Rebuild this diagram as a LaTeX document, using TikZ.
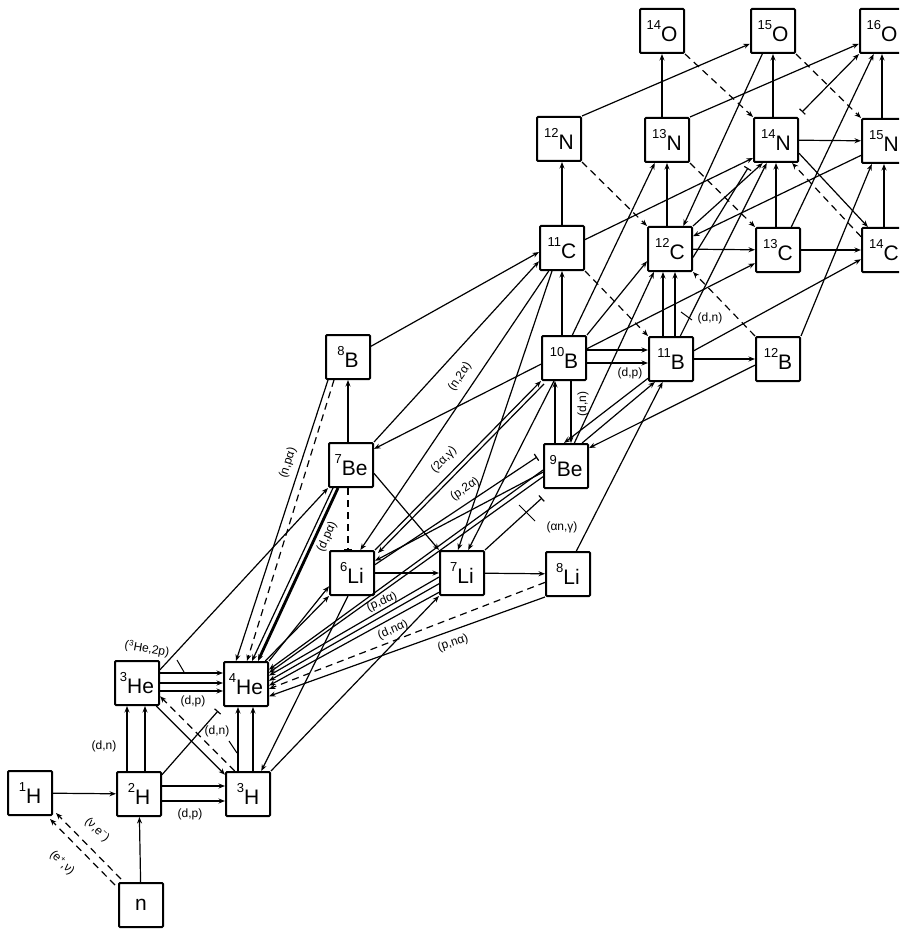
\documentclass[tikz,border=0pt]{standalone}
\usepackage{fontspec}
\setmainfont{Liberation Sans}
\usetikzlibrary{arrows.meta}
\newcommand\ms[1]{\raisebox{0.55em}{\fontsize{13}{13}\selectfont #1}}
\begin{document}
\begin{tikzpicture}[x=1pt,y=-1pt,
  nuc/.style={draw, line width=2pt, minimum width=44pt, minimum height=44pt, inner sep=0pt, rounded corners=1pt, fill=white, font=\fontsize{21}{21}\selectfont},
  ar/.style={line width=1.2pt, -{Stealth[length=6.5pt,width=5pt]}},
  dar/.style={ar, dash pattern=on 7pt off 5pt},
  bar/.style={line width=1.2pt, -{Bar[width=8pt]}},
  dbar/.style={bar, dash pattern=on 7pt off 5pt},
  ln/.style={line width=1pt},
  lab/.style={font=\fontsize{12}{13}\selectfont, inner sep=0.5pt}]
\useasboundingbox (0,0) rectangle (899,933);
\clip (0,0) rectangle (899,933);
% coordinates for free ends
\coordinate (t1) at (802,112);
\coordinate (t2) at (748,168);
% nodes
\node[nuc] (n)   at (141,905) {n};
\node[nuc] (H1)  at (30,793)  {\ms{1}H};
\node[nuc] (H2)  at (139,794) {\ms{2}H};
\node[nuc] (H3)  at (248,794) {\ms{3}H};
\node[nuc] (He3) at (137,683) {\ms{3}He};
\node[nuc] (He4) at (246,684) {\ms{4}He};
\node[nuc] (Li6) at (352,573) {\ms{6}Li};
\node[nuc] (Li7) at (462,573) {\ms{7}Li};
\node[nuc] (Li8) at (568,574) {\ms{8}Li};
\node[nuc] (Be7) at (351,465) {\ms{7}Be};
\node[nuc] (Be9) at (566,466) {\ms{9}Be};
\node[nuc] (B8)  at (348,357) {\ms{8}B};
\node[nuc] (B10) at (564,358) {\ms{10}B};
\node[nuc] (B11) at (671,359) {\ms{11}B};
\node[nuc] (B12) at (778,359) {\ms{12}B};
\node[nuc] (C11) at (562,248) {\ms{11}C};
\node[nuc] (C12) at (670,249) {\ms{12}C};
\node[nuc] (C13) at (778,250) {\ms{13}C};
\node[nuc] (C14) at (884,250) {\ms{14}C};
\node[nuc] (N12) at (559,139) {\ms{12}N};
\node[nuc] (N13) at (667,140) {\ms{13}N};
\node[nuc] (N14) at (776,140) {\ms{14}N};
\node[nuc] (N15) at (884,141) {\ms{15}N};
\node[nuc] (O14) at (662,31)  {\ms{14}O};
\node[nuc] (O15) at (773,31)  {\ms{15}O};
\node[nuc] (O16) at (882,31)  {\ms{16}O};
% ---------- light ----------
\draw[ar] (H1) -- (H2);
\draw[ar] (n) -- (H2);
\draw[dar] ([shift={(3,-3)}]n.north west) -- ([shift={(3,-3)}]H1.south east);
\draw[dar] ([shift={(-3,3)}]n.north west) -- ([shift={(-3,3)}]H1.south east);
\node[lab, rotate=-44] (l1) at (97,830) {(ν,e\textsuperscript{−})};
\node[lab, rotate=-44] (l2) at (62,863) {(e\textsuperscript{+},ν)};
\draw[ar] ([xshift=-12pt]H2.north) -- ([xshift=-12pt]H2.north |- He3.south);
\draw[ar] ([xshift=6pt]H2.north) -- ([xshift=6pt]H2.north |- He3.south);
\node[lab] (l3) at (104,746) {(d,n)};
\draw[ar] ([yshift=8pt]H2.east) -- ([yshift=8pt]H3.west);
\draw[ar] ([yshift=-7pt]H2.east) -- ([yshift=-7pt]H3.west);
\node[lab] (l4) at (190,814) {(d,p)};
\draw[ar] ([yshift=10pt]He3.east) -- ([yshift=10pt]He3.east -| He4.west);
\draw[ar] (He3.east) -- (He3.east -| He4.west);
\draw[ar] ([yshift=-8pt]He3.east) -- ([yshift=-8pt]He3.east -| He4.west);
\node[lab] (l5) at (193,701) {(d,p)};
\node[lab, rotate=-10] (l6) at (147,649) {(\textsuperscript{3}He,2p)};
\coordinate (p6a) at (177,660); \coordinate (p6b) at (184,672);
\draw[ln] (p6a) -- (p6b);
\draw[ar] (He3.-50) -- (H3.140);
\draw[dar] (H3.120) -- (He3.-30);
\draw[bar] (H2.40) -- ([shift={(-5,4)}]He4.south west);
\draw[ar] ([xshift=-10pt]H3.north) -- ([xshift=-10pt]H3.north |- He4.south);
\draw[ar] ([xshift=5pt]H3.north) -- ([xshift=5pt]H3.north |- He4.south);
\node[lab] (l7) at (217,731) {(d,n)};
\coordinate (p7a) at (229,741); \coordinate (p7b) at (237,753);
\draw[ln] (p7a) -- (p7b);
\draw[ar] (Li6.-100) -- (H3.60);
\draw[ar] (H3.north east) -- (Li7.south west);
\draw[ar] (He3.30) -- (Be7.south west);
% ---------- He4 fan ----------
\draw[ar, line width=2.8pt] ([xshift=-13pt]Be7.south) -- ([xshift=12pt]He4.north);
\draw[ar] ([xshift=-18pt]Be7.south) -- ([xshift=6pt]He4.north);
\node[lab, rotate=65] (l8) at (327,537) {(d,pα)};
\draw[dar] ([xshift=-14pt]B8.south) -- ([xshift=1pt]He4.north);
\draw[ar] ([xshift=-20pt]B8.south) -- ([xshift=-10pt]He4.north);
\node[lab, rotate=72] (l9) at (288,463) {(n,pα)};
\draw[ar] (He4.50) -- (Li6.south west);
\draw[ar] (He4.north east) -- (Li6.-150);
\draw[ar] (Li7.190) -- (He4.20);
\draw[ar] (Li7.205) -- (He4.8);
\draw[ar] (Li7.220) -- (He4.-4);
\node[lab, rotate=23] (l10) at (382,602) {(p,dα)};
\node[lab, rotate=23] (l11) at (393,630) {(d,nα)};
\draw[dar] (Li8.200) -- (He4.-12);
\draw[ar] (Li8.-135) -- (He4.-28);
\node[lab, rotate=19] (l12) at (453,643) {(p,nα)};
\draw[ar] (Be9.190) -- (He4.32);
\draw[ar] (Be9.205) -- (He4.26);
\node[lab] (l13) at (562,527) {(αn,γ)};
\coordinate (p13a) at (535,521); \coordinate (p13b) at (519,505);
\draw[ln] (p13a) -- (p13b);
% ---------- Li, Be, B ----------
\draw[ar] (Li6) -- (Li7);
\draw[ar] (Li7) -- (Li8);
\draw[ar] (B8.south |- Be7.north) -- (B8.south);
\draw[dbar] ([xshift=-3pt]Be7.south) -- ([xshift=-3pt]Be7.south |- Li6.north);
\draw[ar] (Be7.-20) -- (Li7.north west);
\draw[ar] (B10.195) -- (Be7.35);
\draw[ar] (Li6.north east) -- (B10.south west);
\draw[ar] ([shift={(3,3)}]B10.south west) -- ([shift={(3,3)}]Li6.north east);
\node[lab, rotate=46] (l14) at (444,460) {(2α,γ)};
\draw[ar] (C11.-120) -- (Li6.70);
\node[lab, rotate=56] (l15) at (460,377) {(n,2α)};
\draw[ar] ([xshift=-10pt]C11.south) -- (Li7.100);
\draw[ar] ([xshift=-10pt]B10.south) -- (Li7.75);
\draw[bar] (Li6.20) -- ([shift={(-6,-9)}]Be9.west);
\node[lab, rotate=33] (l16) at (465,489) {(p,2α)};
\draw[ar] (Be9.195) -- (Li6.28);
\draw[bar] (Li7.north east) -- ([shift={(-1,9)}]Be9.south west);
\draw[ar] (Li8.70) -- (B11.-110);
\draw[ar] ([xshift=-11pt]Be9.north) -- ([xshift=-11pt]Be9.north |- B10.south);
\draw[ar] ([xshift=7pt]B10.south) -- ([xshift=7pt]B10.south |- Be9.north);
\node[lab, rotate=90] (l17) at (583,404) {(d,n)};
\draw[ar] ([yshift=8pt]B10.east) -- ([yshift=8pt]B10.east -| B11.west);
\draw[ar] ([yshift=-5pt]B10.east) -- ([yshift=-5pt]B10.east -| B11.west);
\node[lab] (l18) at (630,373) {(d,p)};
\draw[ar] (B11) -- (B12);
\draw[ar] (B12.195) -- (Be9.38);
\draw[ar] (B11.-140) -- (Be9.95);
\draw[ar] (Be9.55) -- (B11.-125);
% ---------- C, N, O ----------
\draw[ar] (B8.25) -- (C11.190);
\draw[ar] (Be7.north east) -- (C11.-150);
\draw[ar] (C11.south |- B10.north) -- (C11.south);
\draw[dar] (C11.south east) -- (B11.north west);
\draw[ar] ([xshift=-8pt]B11.north) -- ([xshift=-8pt]B11.north |- C12.south);
\draw[ar] ([xshift=4pt]B11.north) -- ([xshift=4pt]B11.north |- C12.south);
\node[lab] (l19) at (710,318) {(d,n)};
\coordinate (p19a) at (692,320); \coordinate (p19b) at (681,312);
\draw[ln] (p19a) -- (p19b);
\draw[ar] (Be9.70) -- (C12.-125);
\draw[ar] (B10.north east) -- (C12.-152);
\draw[ar] (B10.70) -- (N13.-118);
\draw[ar] (B10.22) -- (C13.-150);
\draw[ar] (B11.68) -- (N14.-112);
\draw[ar] (B11.20) -- (C14.-158);
\draw[ar] (B12.north east) -- (N15.-118);
\draw[dar] (B12.north west) -- (C12.south east);
\draw[ar] (C11.north) -- (C11.north |- N12.south);
\draw[ar] (C11.20) -- (N14.-142);
\draw[ar] (C12) -- (C13);
\draw[ar] (C13) -- (C14);
\draw[ar] (C12.north -| N13.south) -- (N13.south);
\draw[ar] (C13.north -| N14.south) -- (N14.south);
\draw[ar] (C14.north) -- (N15.south);
\draw[dar] (N12.south east) -- (C12.north west);
\draw[dar] (N13.south east) -- (C13.north west);
\draw[ar] (N14.-30) -- (C14.125);
\draw[dar] (C14.150) -- (N14.-55);
\draw[ar] (N14) -- (N15);
\draw[dar] (O14.south east) -- (N14.north west);
\draw[dar] (O15.south east) -- (N15.north west);
\draw[ar] (N13.north -| O14.south) -- (O14.south);
\draw[ar] (N14.north -| O15.south) -- (O15.south);
\draw[ar] (N15.north -| O16.south) -- (O16.south);
\draw[ar] (N12.north east) -- (O15.-151);
\draw[ar] (N13.north east) -- (O16.-151);
\draw[ar] (N15.-148) -- (C12.29);
\draw[ar] (O15.-115) -- (C12.60);
\draw[line width=1.2pt, {Bar[width=8pt]}-{Stealth[length=6.5pt,width=5pt]}] (t1) -- (O16.south west);
\draw[ar] (C13.60) -- (O16.-110);
\draw[bar] (C12.-20) -- (t2);
\draw[ar] (C12.north east) -- (N14.-120);
\end{tikzpicture}
\end{document}
